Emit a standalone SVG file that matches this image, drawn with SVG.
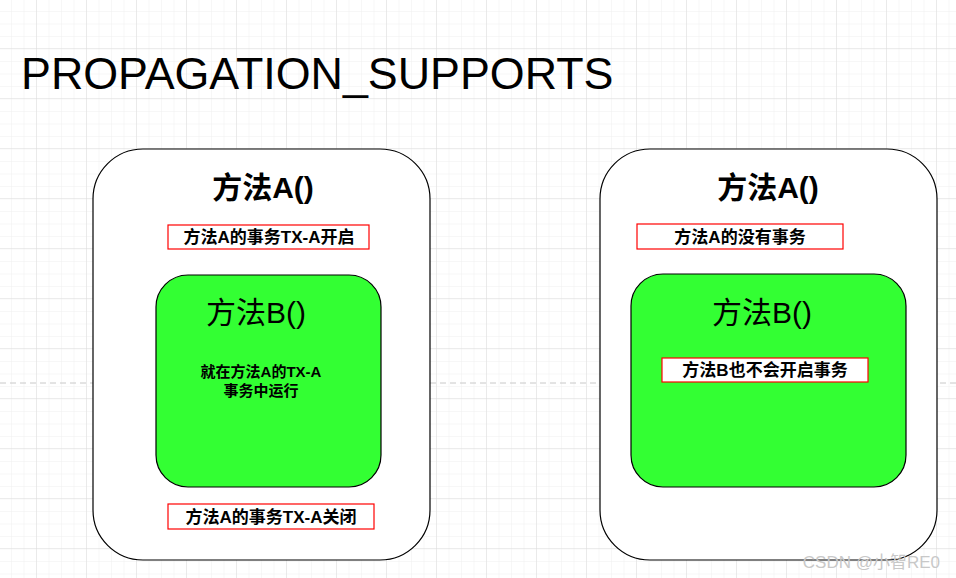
<svg xmlns="http://www.w3.org/2000/svg" width="956" height="578" viewBox="0 0 956 578">
<defs>
<pattern id="minor" x="-0.5" y="-0.5" width="12.5" height="12.5" patternUnits="userSpaceOnUse"><path d="M12.5 0V12.5M0 12.5H12.5" fill="none" stroke="#f0f0f0" stroke-width="1"/></pattern>
<pattern id="major" x="-13" y="-1" width="50" height="50" patternUnits="userSpaceOnUse"><path d="M50 0V50M0 50H50" fill="none" stroke="#dcdcdc" stroke-width="1"/></pattern>
</defs>
<style>
.outer{fill:#fff;stroke:#000;stroke-width:1.2}
.inner{fill:#33ff33;stroke:#000;stroke-width:1.2}
.lbl{fill:#fff;stroke:#ff0000;stroke-width:1.2}
.t{font-family:"Liberation Sans","Noto Sans CJK SC",sans-serif;fill:#000;text-anchor:middle}
.b{font-weight:bold}
</style>
<rect width="956" height="578" fill="#fff"/>
<rect width="956" height="578" fill="url(#minor)"/>
<rect width="956" height="578" fill="url(#major)"/>
<line x1="0" y1="383" x2="956" y2="383" stroke="#c8c8c8" stroke-dasharray="6,4"/>
<text x="21" y="89" font-family="Liberation Sans,sans-serif" font-size="44.8" fill="#000">PROPAGATION_SUPPORTS</text>
<g id="left">
<rect class="outer" x="93" y="149" width="337" height="411" rx="50"/>
<text class="t b" x="263" y="198" font-size="30">方法A()</text>
<rect class="lbl" x="168" y="225" width="201" height="24"/>
<text class="t b" x="269" y="243" font-size="17">方法A的事务TX-A开启</text>
<g id="left-inner">
<rect class="inner" x="156" y="275" width="225" height="212" rx="32"/>
<text class="t" x="256" y="323" font-size="30">方法B()</text>
<text class="t b" x="261" y="377" font-size="15">就在方法A的TX-A</text>
<text class="t b" x="261" y="396" font-size="15">事务中运行</text>
</g>
<rect class="lbl" x="168" y="504" width="206" height="25"/>
<text class="t b" x="271" y="523" font-size="17">方法A的事务TX-A关闭</text>
</g>
<g id="right">
<rect class="outer" x="600" y="149" width="337" height="411" rx="50"/>
<text class="t b" x="768" y="198" font-size="30">方法A()</text>
<rect class="lbl" x="637" y="224" width="206" height="25"/>
<text class="t b" x="740" y="243" font-size="17">方法A的没有事务</text>
<g id="right-inner">
<rect class="inner" x="631" y="274" width="275" height="213" rx="32"/>
<text class="t" x="762" y="323" font-size="30">方法B()</text>
<rect class="lbl" x="662" y="358" width="206" height="24"/>
<text class="t b" x="765" y="376" font-size="17">方法B也不会开启事务</text>
</g>
</g>
<g id="connectors"/>
<text x="940" y="568" font-family="Liberation Sans,'Noto Sans CJK SC',sans-serif" font-size="17" fill="#c8c8c8" text-anchor="end">CSDN @小智RE0</text>
</svg>
